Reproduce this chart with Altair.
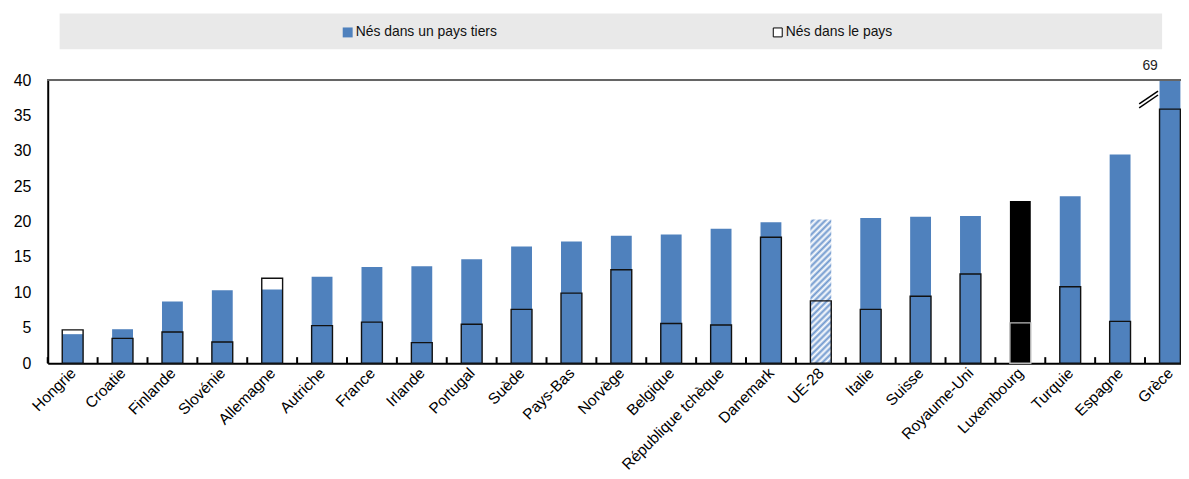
import altair as alt
import pandas as pd

countries = ["Hongrie", "Croatie", "Finlande", "Slovénie", "Allemagne", "Autriche", "France",
             "Irlande", "Portugal", "Suède", "Pays-Bas", "Norvège", "Belgique",
             "République tchèque", "Danemark", "UE-28", "Italie", "Suisse", "Royaume-Uni",
             "Luxembourg", "Turquie", "Espagne", "Grèce"]
third_country = [4.1, 4.8, 8.7, 10.3, 10.4, 12.2, 13.6, 13.7, 14.7, 16.5, 17.2, 18.0, 18.2,
                 19.0, 19.9, 20.3, 20.5, 20.7, 20.8, 22.9, 23.6, 29.5, 69]
native_born = [4.7, 3.5, 4.4, 3.0, 12.0, 5.3, 5.8, 2.9, 5.5, 7.6, 9.9, 13.2, 5.6,
               5.4, 17.8, 8.8, 7.6, 9.45, 12.6, 5.7, 10.8, 5.9, 35.9]
series = ["Nés dans un pays tiers", "Nés dans le pays"]
y_ticks = [0, 5, 10, 15, 20, 25, 30, 35, 40]

df = pd.DataFrame({"country": countries, "third": third_country, "native": native_born})

FONT = "Liberation Sans"
BLUE = "#4F81BD"
W, H = 1141, 285
XR = 1155
STEP = XR / len(countries)

# hatch gradient for UE-28
n_str = 26
stops = []
for k in range(2 * n_str + 1):
    stops.append(alt.GradientStop(offset=k / (2 * n_str), color="#FFFFFF" if k % 2 == 0 else "#6F98CE"))
hatch = alt.LinearGradient(gradient="linear", stops=stops, x1=0, y1=0, x2=0.1626, y2=1.121)

xscale = alt.Scale(domain=countries, range=[0, XR], paddingInner=0, paddingOuter=0)
xaxis = alt.Axis(title=None, labelAngle=-45, labelFontSize=15.5, labelFont=FONT,
                 labelColor="#000", domainColor="#000", domainWidth=2,
                 ticks=False, tickBand="extent", grid=True, gridColor="#FFFFFF",
                 gridWidth=1.5, labelPadding=7, labelAlign="right",
                 labelBaseline="middle", labelOverlap=False)
xenc = alt.X("country:N", sort=countries, scale=xscale, axis=xaxis)
yscale = alt.Scale(domain=[0, 40], clamp=True, nice=False)
yaxis = alt.Axis(title=None, values=y_ticks, labelFontSize=16, labelFont=FONT,
                 labelColor="#000", domainColor="#000", domainWidth=2,
                 ticks=False, grid=True, gridColor="#FFFFFF", gridWidth=1.5,
                 labelPadding=17, labelOverlap=False, tickCount=9)
yenc = alt.Y("third:Q", scale=yscale, axis=yaxis)

base = alt.Chart(df)

blue = base.mark_bar(size=21, fill=BLUE).encode(x=xenc, y=yenc).transform_filter(
    "datum.country != 'UE-28' && datum.country != 'Luxembourg'")
eu = base.mark_bar(size=21, fill=hatch).encode(x=xenc, y=yenc).transform_filter(
    "datum.country == 'UE-28'")
lux = base.mark_bar(size=21, fill="#000000").encode(x=xenc, y=yenc).transform_filter(
    "datum.country == 'Luxembourg'")
nat = base.mark_bar(size=21, fillOpacity=0, strokeWidth=1.4).encode(
    x=xenc,
    y=alt.Y("native:Q", scale=yscale, axis=yaxis),
    stroke=alt.condition("datum.country == 'Luxembourg'", alt.value("#BBBBBB"), alt.value("#111111")),
)
ticks = base.mark_rule(color="#000000", strokeWidth=2, xOffset=-STEP / 2).encode(
    x=xenc, y=alt.datum(0, scale=yscale, axis=yaxis), y2=alt.datum(0.85))

top_line = base.mark_rule(color="#666666", strokeWidth=1.5).encode(
    x=alt.value(0), x2=alt.value(XR), y=alt.value(0))

# axis break on Grèce + value label
brk_df = pd.DataFrame({"country": ["Grèce"], "v": [third_country[-1]]})
brk1 = alt.Chart(brk_df).mark_rule(color="#000", strokeWidth=1.5, xOffset=-31, x2Offset=-12).encode(
    x=xenc, x2=alt.X2("country:N"), y=alt.value(24), y2=alt.value(11))
brk2 = alt.Chart(brk_df).mark_rule(color="#000", strokeWidth=1.5, xOffset=-31, x2Offset=-12).encode(
    x=xenc, x2=alt.X2("country:N"), y=alt.value(28), y2=alt.value(15))
lab69 = alt.Chart(brk_df).mark_text(font=FONT, fontSize=14, color="#222", xOffset=-20).encode(
    x=xenc, y=alt.value(-14), text=alt.Text("v:Q", format=".0f"))

# legend
leg_df = pd.DataFrame({"name": series})
leg_bg = alt.Chart(leg_df.head(1)).mark_rect(fill="#E9E9E9").encode(
    x=alt.value(12), x2=alt.value(1122), y=alt.value(-67), y2=alt.value(-31))
leg_sq1 = alt.Chart(leg_df.head(1)).mark_rect(fill=BLUE).encode(
    x=alt.value(297), x2=alt.value(307), y=alt.value(-53), y2=alt.value(-43))
leg_sq2 = alt.Chart(leg_df.head(1)).mark_rect(fill="#FFFFFF", stroke="#000", strokeWidth=1).encode(
    x=alt.value(730.5), x2=alt.value(739.5), y=alt.value(-52.5), y2=alt.value(-43.5))
leg_t1 = alt.Chart(leg_df.iloc[[0]]).mark_text(font=FONT, fontSize=14, color="#111", align="left",
                                               baseline="middle").encode(
    x=alt.value(310), y=alt.value(-48), text="name:N")
leg_t2 = alt.Chart(leg_df.iloc[[1]]).mark_text(font=FONT, fontSize=14, color="#111", align="left",
                                               baseline="middle").encode(
    x=alt.value(743), y=alt.value(-48), text="name:N")

chart = alt.layer(blue, eu, lux, nat, ticks, top_line, brk1, brk2, lab69,
                  leg_bg, leg_sq1, leg_sq2, leg_t1, leg_t2).properties(
    width=W, height=H,
    autosize=alt.AutoSizeParams(type="none"),
    padding={"left": 40, "top": 71, "right": 0, "bottom": 114},
).configure_view(fill="#EEFBFD", stroke=None).configure(background="#FFFFFF")

chart.save("out.html", embed_options={"renderer": "svg", "actions": False})
